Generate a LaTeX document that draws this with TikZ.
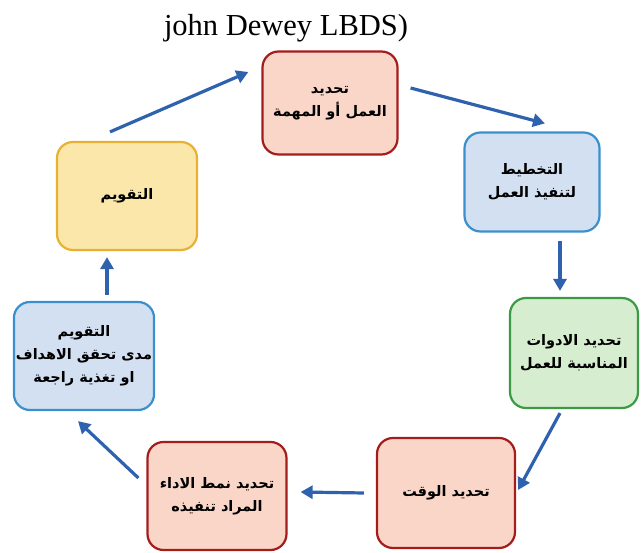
\documentclass[tikz,border=0pt]{standalone}
\usepackage{fontspec}
\setmainfont{Liberation Serif}
\newfontfamily\arabicfont[Script=Arabic]{DejaVu Sans}
\TeXXeTstate=1
\usetikzlibrary{arrows.meta}
\newcommand{\arl}[1]{{\arabicfont\bfseries\beginR #1\endR}}
\definecolor{salmonfill}{HTML}{F9D6C8}
\definecolor{redborder}{HTML}{A51C1C}
\definecolor{bluefill}{HTML}{D3E0F1}
\definecolor{blueborder}{HTML}{3A8FCC}
\definecolor{greenfill}{HTML}{D7EDD0}
\definecolor{greenborder}{HTML}{3C9A45}
\definecolor{yellowfill}{HTML}{FCE7AA}
\definecolor{yellowborder}{HTML}{E9B134}
\definecolor{arrowblue}{HTML}{2F62AE}
\tikzset{
  boxnode/.style={rounded corners=16pt, line width=2.2pt, align=center,
    font=\fontsize{14.5}{23}\selectfont, inner sep=2pt},
  redbox/.style={boxnode, draw=redborder, fill=salmonfill},
  bluebox/.style={boxnode, draw=blueborder, fill=bluefill},
  greenbox/.style={boxnode, draw=greenborder, fill=greenfill},
  yellowbox/.style={boxnode, draw=yellowborder, fill=yellowfill},
  flow/.style={draw=arrowblue, line width=3.2pt, -{Triangle[length=12pt,width=13pt]}}
}
\begin{document}
\begin{tikzpicture}[x=1pt,y=-1pt]
\useasboundingbox (0,0) rectangle (641,553);
\node[font=\fontsize{30.5}{30.5}\selectfont, anchor=base] (title) at (286,36) {john Dewey LBDS)};
\node[redbox, minimum width=135pt, minimum height=103pt] (task) at (330,103)
  {\arl{تحديد}\\\arl{العمل أو المهمة}};
\node[bluebox, minimum width=135pt, minimum height=99pt] (plan) at (532,182)
  {\arl{التخطيط}\\\arl{لتنفيذ العمل}};
\node[greenbox, minimum width=128pt, minimum height=110pt] (tools) at (574,353)
  {\arl{تحديد الادوات}\\\arl{المناسبة للعمل}};
\node[redbox, minimum width=138pt, minimum height=110pt] (time) at (446,493)
  {\arl{تحديد الوقت}};
\node[redbox, minimum width=139pt, minimum height=108pt] (mode) at (217,496)
  {\arl{تحديد نمط الاداء}\\\arl{المراد تنفيذه}};
\node[bluebox, minimum width=138pt, minimum height=108pt] (evalgoals) at (84,356)
  {\arl{التقويم}\\\arl{مدى تحقق الاهداف}\\\arl{او تغذية راجعة}};
\node[yellowbox, minimum width=140pt, minimum height=108pt] (evaluation) at (127,196)
  {\arl{التقويم}};
\draw[flow] ([xshift=-17pt,yshift=9pt]evaluation.north) -- ([xshift=-13pt,yshift=31pt]task.west);
\draw[flow] ([xshift=12pt,yshift=15pt]task.east) -- ([xshift=13pt,yshift=8pt]plan.north);
\draw[flow] ([xshift=28pt,yshift=-8pt]plan.south) -- ([xshift=-14pt,yshift=6pt]tools.north);
\draw[flow] ([xshift=-14pt,yshift=-4pt]tools.south) -- ([xshift=2pt,yshift=3pt]time.east);
\draw[flow] ([xshift=-12pt]time.west) -- ([xshift=13pt,yshift=4pt]mode.east);
\draw[flow] ([xshift=-8pt,yshift=18pt]mode.west) -- ([xshift=-6pt,yshift=-10pt]evalgoals.south);
\draw[flow] ([xshift=23pt,yshift=6pt]evalgoals.north) -- ([xshift=-20pt,yshift=-6pt]evaluation.south);
\end{tikzpicture}
\end{document}
